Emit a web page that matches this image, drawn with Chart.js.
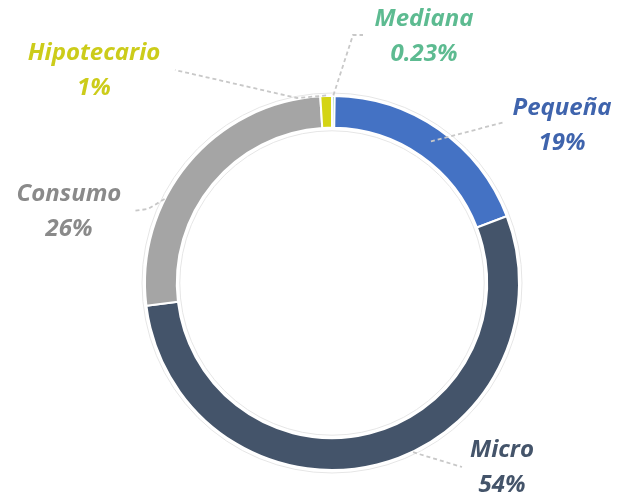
<!DOCTYPE html>
<html>
<head>
<meta charset="utf-8">
<script src="https://cdn.jsdelivr.net/npm/chart.js@4"></script>
<style>
  html, body { margin: 0; padding: 0; background: #fff; }
  #wrap { width: 622px; height: 497px; }
</style>
</head>
<body>
<div id="wrap"><canvas id="chart-cartera"></canvas></div>
<script>
// cartera por tipo de crédito (%)
var categorias = ["Mediana", "Pequeña", "Micro", "Consumo", "Hipotecario"];
var porcentajes = [0.23, 19, 54, 26, 1];
var etiquetas = ["0.23%", "19%", "54%", "26%", "1%"];

var colores = ["#5dbb91", "#4472c4", "#44546a", "#a5a5a5", "#d4d414"];
var coloresTexto = ["#5dbb91", "#3f64ad", "#44546a", "#8a8a8a", "#cccc1a"];

// posición de cada etiqueta respecto al centro del anillo (dx, dy primera línea)
var posEtiqueta = [
    [92, -264],
    [230, -175],
    [170, 167],
    [-263, -89],
    [-238, -230]
];
// punto de salida de la guía sobre el arco: [fracción del ángulo, fracción radial]
var anclaGuia = [
    [0.5, 1.02],
    [0.5, 0.55],
    [0.44, 1.02],
    [0.36, 1.01],
    [0.5, 1.02]
];
// quiebres de la línea guía (desde el arco hacia el texto)
var quiebresGuia = [
    [[21, -248], [31, -248]],
    [[173, -161]],
    [[130, 184]],
    [[-184, -74], [-199, -72]],
    [[-35, -185], [-157, -213]]
];

const etiquetasPlugin = {
    id: 'etiquetasPlugin',
    beforeDatasetsDraw(chart) {
        const arc = chart.getDatasetMeta(0).data[0];
        if (!arc) return;
        const ctx = chart.ctx;
        ctx.save();
        ctx.strokeStyle = '#e6e6e6';
        ctx.lineWidth = 1;
        ctx.beginPath();
        ctx.arc(arc.x, arc.y, arc.outerRadius + 3, 0, Math.PI * 2);
        ctx.stroke();
        ctx.beginPath();
        ctx.arc(arc.x, arc.y, arc.innerRadius - 3, 0, Math.PI * 2);
        ctx.stroke();
        ctx.restore();
    },
    afterDraw(chart) {
        const ctx = chart.ctx;
        const arcs = chart.getDatasetMeta(0).data;
        ctx.save();
        arcs.forEach(function(arc, i) {
            const p = arc.getProps(['x', 'y', 'startAngle', 'endAngle', 'innerRadius', 'outerRadius']);
            const ang = p.startAngle + anclaGuia[i][0] * (p.endAngle - p.startAngle);
            const r = p.innerRadius + anclaGuia[i][1] * (p.outerRadius - p.innerRadius);

            // línea guía
            ctx.strokeStyle = '#c8c8c8';
            ctx.lineWidth = 1.8;
            ctx.setLineDash([4, 3]);
            ctx.beginPath();
            ctx.moveTo(p.x + Math.cos(ang) * r, p.y + Math.sin(ang) * r);
            quiebresGuia[i].forEach(function(q) {
                ctx.lineTo(p.x + q[0], p.y + q[1]);
            });
            ctx.stroke();
            ctx.setLineDash([]);

            // texto: nombre y porcentaje
            const tx = p.x + posEtiqueta[i][0];
            const ty = p.y + posEtiqueta[i][1];
            ctx.fillStyle = coloresTexto[i];
            ctx.font = 'italic bold 24px "Open Sans"';
            ctx.textAlign = 'center';
            ctx.textBaseline = 'middle';
            ctx.fillText(categorias[i], tx, ty);
            ctx.fillText(etiquetas[i], tx, ty + 35);
        });
        ctx.restore();
    }
};

const ctx = document.getElementById("chart-cartera").getContext("2d");
const myChart = new Chart(ctx, {
    type: 'doughnut',
    data: {
        labels: categorias,
        datasets: [{
            data: porcentajes,
            backgroundColor: colores,
            borderColor: '#ffffff',
            borderWidth: 2,
            hoverBorderWidth: 2,
        }],
    },
    options: {
        responsive: true,
        maintainAspectRatio: false,
        animation: false,
        cutout: '83%',
        rotation: 0,
        layout: {
            padding: { left: 144, right: 102, top: 95, bottom: 26 }
        },
        plugins: {
            legend: { display: false },
            tooltip: { enabled: false },
        },
    },
    plugins: [etiquetasPlugin],
});
</script>
</body>
</html>
